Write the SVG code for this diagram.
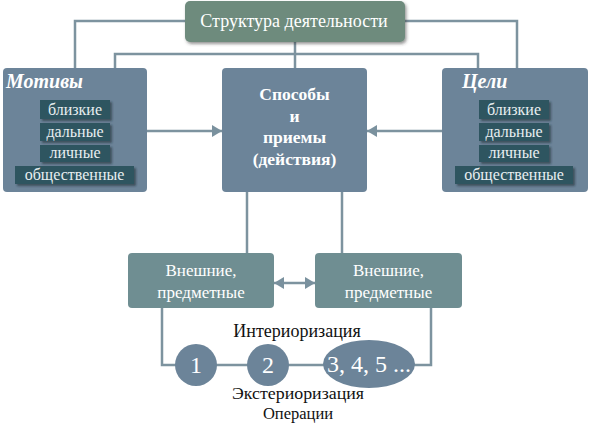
<svg xmlns="http://www.w3.org/2000/svg" width="591" height="424" viewBox="0 0 591 424">
<defs>
<filter id="sh" x="-20%" y="-20%" width="150%" height="160%">
<feDropShadow dx="2" dy="2" stdDeviation="1.2" flood-color="#1a2a30" flood-opacity="0.6"/>
</filter>
<filter id="bsh" x="-10%" y="-10%" width="120%" height="130%">
<feDropShadow dx="1.5" dy="2" stdDeviation="1.5" flood-color="#333" flood-opacity="0.5"/>
</filter>
<marker id="ah" viewBox="0 0 10 12" refX="10" refY="6" markerWidth="10" markerHeight="12" markerUnits="userSpaceOnUse" orient="auto-start-reverse">
<path d="M0,0 L10,6 L0,12 Z" fill="#7a919e"/>
</marker>
</defs>
<style>
.ln{fill:none;stroke:#7d939f;stroke-width:2.5}
.blue{fill:#6c8499}
.teal{fill:#6f8e92}
.pill{fill:#2f5460;filter:url(#sh)}
text{font-family:'Liberation Serif','DejaVu Serif','Times New Roman',serif}
.t{fill:#fff;text-anchor:middle}
.pt{fill:#e8eef0;text-anchor:middle;font-size:16px}
.k{fill:#111;text-anchor:middle;font-size:18px}
.k2{fill:#111;text-anchor:middle;font-size:16.5px}
.hd{font-size:20px;font-weight:bold;font-style:italic;fill:#fff}
.sp{font-size:17.5px;font-weight:bold}
</style>
<rect width="591" height="424" fill="#fff"/>
<g id="connectors">
<polyline class="ln" points="185,21 75,21 75,68"/>
<polyline class="ln" points="405,21 517,21 517,68"/>
<polyline class="ln" points="115,68 115,54 478,54 478,68"/>
<line class="ln" x1="295" y1="42" x2="295" y2="68"/>
<line class="ln" x1="147" y1="131" x2="222" y2="131" marker-end="url(#ah)"/>
<line class="ln" x1="442" y1="131" x2="367" y2="131" marker-end="url(#ah)"/>
<line class="ln" x1="247" y1="192" x2="247" y2="253"/>
<line class="ln" x1="342" y1="192" x2="342" y2="253"/>
<line class="ln" x1="274" y1="283" x2="315" y2="283" marker-start="url(#ah)" marker-end="url(#ah)"/>
<polyline class="ln" points="162,308 162,365 431,365 431,308"/>
</g>
<g id="structure">
<rect x="185" y="1" width="220" height="41" rx="5" fill="#6e8b7d" filter="url(#bsh)"/>
<text class="t" x="294" y="27" font-size="18">Структура деятельности</text>
</g>
<g id="motives">
<rect class="blue" x="3" y="68" width="144" height="124" rx="4"/>
<text class="hd" x="6" y="88">Мотивы</text>
<rect class="pill" x="40" y="100" width="70" height="19"/>
<text class="pt" x="75" y="115">близкие</text>
<rect class="pill" x="40" y="123" width="70" height="18"/>
<text class="pt" x="75" y="137">дальные</text>
<rect class="pill" x="40" y="145" width="70" height="17"/>
<text class="pt" x="75" y="158">личные</text>
<rect class="pill" x="15" y="166" width="119" height="18"/>
<text class="pt" x="74.5" y="180">общественные</text>
</g>
<g id="methods">
<rect class="blue" x="222" y="68" width="145" height="124" rx="4"/>
<text class="t sp" x="294.5" y="100">Способы</text>
<text class="t sp" x="294.5" y="122">и</text>
<text class="t sp" x="294.5" y="143">приемы</text>
<text class="t sp" x="294.5" y="165">(действия)</text>
</g>
<g id="goals">
<rect class="blue" x="442" y="68" width="146" height="124" rx="4"/>
<text class="hd" x="462" y="88">Цели</text>
<rect class="pill" x="479" y="100" width="70" height="19"/>
<text class="pt" x="514" y="115">близкие</text>
<rect class="pill" x="479" y="123" width="70" height="18"/>
<text class="pt" x="514" y="137">дальные</text>
<rect class="pill" x="479" y="145" width="70" height="17"/>
<text class="pt" x="514" y="158">личные</text>
<rect class="pill" x="455" y="166" width="118" height="18"/>
<text class="pt" x="514" y="180">общественные</text>
</g>
<g id="external-left">
<rect class="teal" x="128" y="253" width="146" height="55" rx="4"/>
<text class="t" x="201" y="276" font-size="17">Внешние,</text>
<text class="t" x="201" y="298" font-size="17">предметные</text>
</g>
<g id="external-right">
<rect class="teal" x="315" y="253" width="147" height="55" rx="4"/>
<text class="t" x="388.5" y="276" font-size="17">Внешние,</text>
<text class="t" x="388.5" y="298" font-size="17">предметные</text>
</g>
<g id="op1">
<circle cx="196" cy="365" r="21" class="blue"/>
<text class="t" x="196" y="373" font-size="24">1</text>
</g>
<g id="op2">
<circle cx="268" cy="365" r="21" class="blue"/>
<text class="t" x="268" y="373" font-size="24">2</text>
</g>
<g id="op3">
<ellipse cx="369" cy="364" rx="46" ry="24" class="blue"/>
<text class="t" x="369" y="372" font-size="24">3, 4, 5 ...</text>
</g>
<g id="labels">
<text class="k" x="297" y="337">Интериоризация</text>
<text class="k2" x="298" y="399" textLength="132" lengthAdjust="spacingAndGlyphs">Экстериоризация</text>
<text class="k2" x="298" y="419">Операции</text>
</g>
</svg>
